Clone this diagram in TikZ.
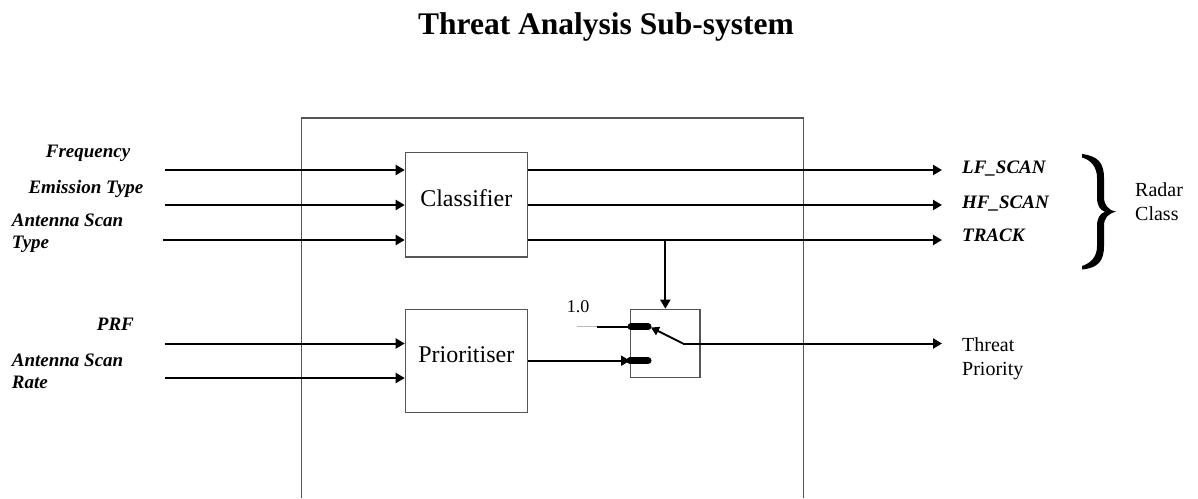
\documentclass[tikz,border=0pt]{standalone}
\usepackage{fontspec}
\setmainfont{Liberation Serif}
\usetikzlibrary{arrows.meta,calc}
\definecolor{boxgray}{HTML}{555555}
\begin{document}
\begin{tikzpicture}[x=1pt,y=-1pt,
  sig/.style={line width=2pt, draw=black},
  arr/.style={sig, -{Triangle[length=9pt,width=10pt]}},
  blockbox/.style={draw=boxgray, line width=1.2pt, inner sep=0pt,
    text height=16pt, text depth=13pt, font=\fontsize{24}{28}\selectfont},
  lbl/.style={inner sep=0pt, font=\fontsize{19}{22}\selectfont\bfseries\itshape, anchor=base west},
  lbltwo/.style={inner sep=0pt, font=\fontsize{19}{22}\selectfont\bfseries\itshape, anchor=north west, align=left},
  plain/.style={inner sep=0pt, font=\fontsize{20}{24}\selectfont, anchor=north west, align=left},
  pill/.style={line width=7pt, line cap=round, draw=black}
  ]
\useasboundingbox (0,0) rectangle (1198,498);

% title
\node[inner sep=0pt, anchor=base, font=\fontsize{31.5}{36}\selectfont\bfseries] (title) at (606,34.3) {Threat Analysis Sub-system};

% outer sub-system frame (open at bottom)
\draw[boxgray, line width=1.2pt] (301.7,498) -- (301.7,118) -- (803.3,118) -- (803.3,498);

% blocks
\node[blockbox, minimum width=122pt, minimum height=104.3pt] (classifier) at (466.3,204.85) {Classifier};
\node[blockbox, minimum width=122pt, minimum height=103.4pt] (prioritiser) at (466.3,360.9) {Prioritiser};
\node[draw=boxgray, line width=1.2pt, inner sep=0pt, minimum width=69.3pt, minimum height=68.4pt] (switch) at (665.35,343.5) {};

% input coordinates
\coordinate (iFreq) at (165,170);
\coordinate (iEmis) at (165,205);
\coordinate (iAnt) at (163,240);
\coordinate (iPrf) at (165,343.5);
\coordinate (iRate) at (165,378);

\draw[arr] (iFreq) -- (iFreq -| classifier.west);
\draw[arr] (iEmis) -- (iEmis -| classifier.west);
\draw[arr] (iAnt) -- (iAnt -| classifier.west);
\draw[arr] (iPrf) -- (iPrf -| prioritiser.west);
\draw[arr] (iRate) -- (iRate -| prioritiser.west);

% outputs
\coordinate (oLF) at (942,170);
\coordinate (oHF) at (942,205);
\coordinate (oTR) at (942,240);
\coordinate (oTP) at (942,343.5);
\draw[arr] (oLF -| classifier.east) -- (oLF);
\draw[arr] (oHF -| classifier.east) -- (oHF);
\draw[arr] (oTR -| classifier.east) -- (oTR);

% TRACK branch to switch control
\coordinate (branch) at (665.35,240);
\draw[arr] (branch) -- (switch.north);

% switch internals
\coordinate (const) at (577,326.7);
\coordinate (constb) at (597,326.7);
\coordinate (pinA) at (631,326.7);
\coordinate (pinB) at (630,360.7);
\coordinate (pivot) at (683,343.5);
\coordinate (leverTip) at (651,327.5);

\draw[gray!55, line width=1pt] (const) -- (constb);
\draw[sig] (constb) -- (pinA);
\draw[pill] (pinA) -- (648,326.7);
\draw[pill] (pinB) -- (648,360.7);
\draw[arr] (pinB -| prioritiser.east) -- (pinB);
\draw[sig, -{Triangle[length=8pt,width=9pt]}] (pivot) -- (leverTip);
\draw[arr] (pivot) -- (oTP);

\node[inner sep=0pt, anchor=base west, font=\fontsize{18}{22}\selectfont] (one) at (566.7,312.3) {1.0};

% left labels
\node[lbl] (lFreq) at (45.7,157.3) {Frequency};
\node[lbl] (lEmis) at (28.3,193) {Emission Type};
\node[lbltwo] (lAnt) at (11.7,214) {Antenna Scan\\Type};
\node[lbl] (lPrf) at (96.7,330.7) {PRF};
\node[lbltwo] (lRate) at (11.7,353.3) {Antenna Scan\\Rate};

% right labels
\node[lbl] (rLF) at (962,173) {LF\_SCAN};
\node[lbl] (rHF) at (962,208) {HF\_SCAN};
\node[lbl] (rTR) at (962,241.7) {TRACK};

\node[plain] (threat) at (962,337) {Threat\\Priority};
\node[plain] (radar) at (1135,182.3) {Radar\\Class};

% brace
\fill[black] (1082,154)
  .. controls (1098,156) and (1104,163) .. (1104,178)
  -- (1104,197)
  .. controls (1104,205) and (1108,210) .. (1116,211.7)
  .. controls (1108,213.5) and (1104,218) .. (1104,226)
  -- (1104,246)
  .. controls (1104,261) and (1098,268) .. (1082,269.5)
  -- (1082,266)
  .. controls (1091,263) and (1097,257) .. (1097,246)
  -- (1097,226)
  .. controls (1097,218) and (1100,213.5) .. (1105,211.7)
  .. controls (1100,210) and (1097,206) .. (1097,197)
  -- (1097,178)
  .. controls (1097,167) and (1091,160) .. (1082,157.5)
  -- cycle;
\end{tikzpicture}
\end{document}
